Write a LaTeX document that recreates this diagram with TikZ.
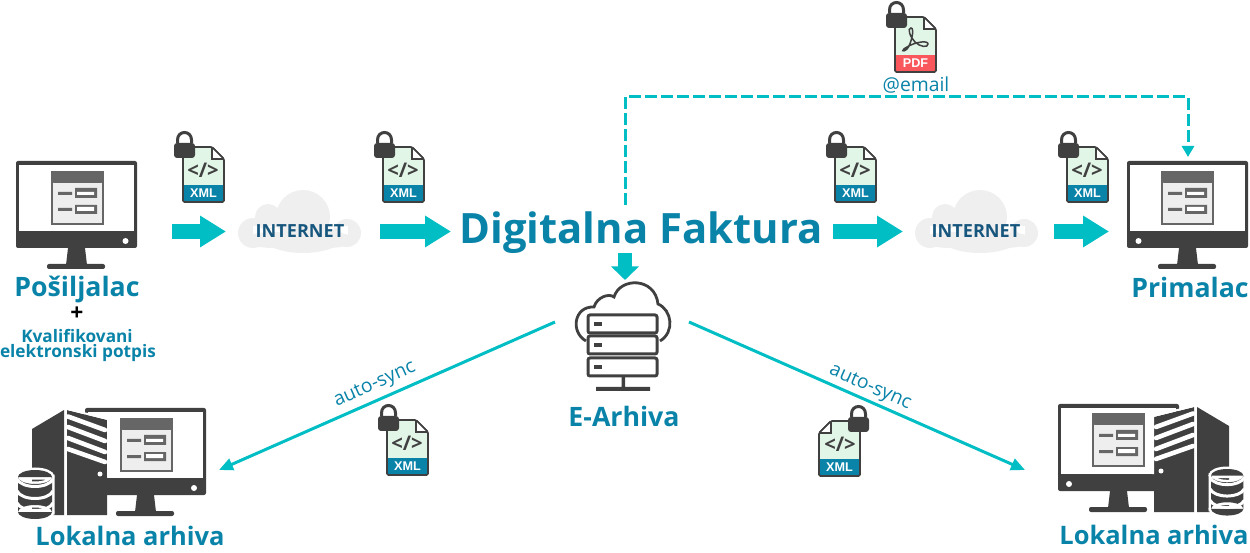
\documentclass[tikz,border=0pt]{standalone}
\usepackage{fontspec}
\setmainfont{Open Sans}
\newfontfamily\xmlfont{Liberation Sans}
\usetikzlibrary{arrows.meta}
\newlength\pxu
\setlength\pxu{0.02cm}
\definecolor{tealarrow}{HTML}{00BEC4}
\definecolor{brandblue}{HTML}{0A83A8}
\definecolor{icondark}{HTML}{404040}
\definecolor{formgrey}{HTML}{666666}
\definecolor{formpale}{HTML}{EEEEEE}
\definecolor{cloudgrey}{HTML}{EFEFEF}
\definecolor{netblue}{HTML}{17567D}
\definecolor{filegreen}{HTML}{E2F6E8}
\definecolor{pdfred}{HTML}{F9575C}
\tikzset{
  blockarrow/.style={line width=15\pxu,tealarrow,-{Triangle[length=.52cm,width=.6cm]}},
  droparrow/.style={line width=14\pxu,tealarrow,-{Triangle[length=.27cm,width=.54cm]}},
  synclink/.style={line width=3\pxu,tealarrow,-{Triangle[length=.28cm,width=.24cm]}},
  maillink/.style={line width=3\pxu,tealarrow,dash pattern=on 12\pxu off 4\pxu,-{Triangle[length=.22cm,width=.24cm]}},
  bigname/.style={inner sep=0,brandblue,font=\bfseries\fontsize{15.2}{18}\selectfont},
  archname/.style={inner sep=0,brandblue,font=\bfseries\fontsize{14.5}{18}\selectfont},
  subname/.style={inner sep=0,brandblue,font=\bfseries\fontsize{9.8}{11}\selectfont},
  synctext/.style={inner sep=0,brandblue,font=\fontsize{11}{13}\selectfont},
  nettext/.style={inner sep=0,netblue,font=\bfseries\fontsize{10.3}{12}\selectfont},
  pics/lockicon/.style={code={
    \draw[icondark,line width=3\pxu] (-5.5,-4) -- (-5.5,-7) .. controls (-5.5,-17) and (8.5,-17) .. (8.5,-7) -- (8.5,-4);
    \fill[icondark,rounded corners=3\pxu] (-9,-4) rectangle (12,11);
  }},
  pics/filesheet/.style n args={3}{code={
    \draw[icondark,line width=1.6\pxu,fill=filegreen,rounded corners=1.5\pxu] (0,0) -- (29,0) -- (41,12) -- (41,55) -- (0,55) -- cycle;
    \fill[#1] (1,38) rectangle (40,54);
    \fill[white] (29,1) -- (29,12) -- (40,12) -- cycle;
    \draw[icondark,line width=1.6\pxu] (29,0) -- (29,12) -- (41,12);
    \draw[icondark,line width=1.6\pxu,rounded corners=1.5\pxu] (29,0) -- (41,12) -- (41,55) -- (0,55) -- (0,0) -- cycle;
    \node[inner sep=0,white,font=\xmlfont\bfseries\fontsize{7.2}{8}\selectfont] (-tag) at (20.5,46) {#2};
    \node[inner sep=0,icondark,font=\bfseries\fontsize{11.5}{13}\selectfont] (-code) at (20,23) {#3};
  }},
  pics/formbox/.style={code={
    \draw[formgrey,line width=1.5\pxu,fill=formpale] (0,0) rectangle (51,52);
    \fill[formgrey,rounded corners=1.5\pxu] (0,0) rectangle (51,11);
    \fill[formgrey] (6,20) rectangle (20,23) (6,36) rectangle (20,39) (23,16) rectangle (45,26) (23,33) rectangle (45,42);
    \fill[white] (25,20) rectangle (42,23) (25,35) rectangle (42,39);
  }},
  pics/screenbox/.style={code={
    \fill[icondark,rounded corners=2\pxu] (0,0) rectangle (121,87);
    \fill[white] (3,4) rectangle (118,70);
    \fill[icondark] (52,87) -- (69,87) -- (71,104) -- (50,104) -- cycle;
    \fill[icondark,rounded corners=2\pxu] (31,103) rectangle (89,108);
  }},
  pics/towerbox/.style={code={
    \fill[icondark] (0,21) -- (32,2) -- (32,107) -- (0,107) -- cycle;
    \fill[icondark] (35,2) -- (75,12) -- (75,107) -- (35,107) -- cycle;
    \draw[white,line width=2\pxu] (35,1) -- (76,11) -- (76,69);
    \draw[white,line width=4.6\pxu,line cap=round] (36,8.5) -- (73,22) (36,19) -- (73,33) (36,30) -- (73,44) (36,41) -- (73,54);
    \fill[white] (68,66) circle (2.5);
  }},
  pics/dbstack/.style={code={
    \draw[white,line width=5\pxu] (17,7) ellipse (17 and 7) (0,7) rectangle (34,42) (17,42) ellipse (17 and 7);
    \fill[icondark] (17,7) ellipse (17 and 7) (0,7) rectangle (34,42) (17,42) ellipse (17 and 7);
    \draw[white,line width=3\pxu] (-1,9) .. controls (4,19) and (30,19) .. (35,9);
    \draw[white,line width=3\pxu] (-1,21) .. controls (4,31) and (30,31) .. (35,21);
    \draw[white,line width=3\pxu] (-1,33) .. controls (4,43) and (30,43) .. (35,33);
  }},
  pics/netcloud/.style={code={
    \fill[cloudgrey] (65,27) circle (27) (30,27) circle (13) (15,43) circle (15) (109,43) circle (14) (65,47) ellipse (40 and 16) (15,36) rectangle (110,50) (35,50) ellipse (28 and 8) (90,50) ellipse (26 and 8);
  }},
  pics/rackslot/.style={code={
    \draw[icondark,line width=3\pxu,rounded corners=2\pxu] (0,0) rectangle (69,18);
    \fill[icondark] (6,7) rectangle (14,11);
  }}
}
\begin{document}
\begin{tikzpicture}[x=0.02cm,y=-0.02cm]
  \useasboundingbox (0,0) rectangle (1250,553);
  %% Sender
  \pic at (16,161) {screenbox};
  \pic at (52,172) {formbox};
  \fill[white] (125.5,241) circle (3);
  \node[bigname] (sender) at (77,289) {Pošiljalac};
  \node[inner sep=0,font=\bfseries\fontsize{13}{14}\selectfont] (plus) at (77,314) {+};
  \node[subname] (cert1) at (77,336) {Kvalifikovani};
  \node[subname] (cert2) at (78,353) {elektronski potpis};
  %% Receiver
  \pic at (1127,161) {screenbox};
  \pic at (1162,172) {formbox};
  \fill[white] (1138.5,241) circle (3);
  \node[bigname] (receiver) at (1190,287) {Primalac};
  %% Clouds
  \pic at (238,190) {netcloud};
  \pic at (915,190) {netcloud};
  \node[nettext] (net1) at (300,231) {INTERNET};
  \node[nettext] (net2) at (976,231) {INTERNET};
  \node[inner sep=0,brandblue,font=\bfseries\fontsize{23.8}{28}\selectfont] (brand) at (641,233) {Digitalna Faktura};
  %% Archive cloud
  \draw[icondark,line width=2.8\pxu] (586,341) .. controls (570,332) and (574,306) .. (594,307) .. controls (597,297) and (609,293) .. (614,297) .. controls (620,277) and (655,277) .. (658,304) .. controls (672,310) and (675,332) .. (660,341);
  \pic at (588,315) {rackslot};
  \pic at (588,336) {rackslot};
  \pic at (588,358) {rackslot};
  \fill[icondark] (621.5,377) rectangle (625,388) (596,387) rectangle (650,391);
  \node[bigname] (archive) at (624,416) {E-Arhiva};
  %% Local archives
  \pic at (85,408) {screenbox};
  \pic at (121,419) {formbox};
  \fill[white] (194,488) circle (3);
  \pic at (32,408) {towerbox};
  \pic at (18,470) {dbstack};
  \node[archname] (local1) at (130,536) {Lokalna arhiva};
  \pic at (1058,404) {screenbox};
  \pic at (1093,414) {formbox};
  \fill[white] (1069,484) circle (3);
  \pic[xscale=-1] at (1229,405) {towerbox};
  \pic[scale=.95] at (1211,469) {dbstack};
  \node[archname] (local2) at (1154,535) {Lokalna arhiva};
  %% Connectors
  \coordinate (a1from) at (172,231.5);
  \coordinate (a1to) at (226,231.5);
  \coordinate (a2from) at (380,231.5);
  \coordinate (a2to) at (451,231.5);
  \coordinate (a3from) at (833,231.5);
  \coordinate (a3to) at (903,231.5);
  \coordinate (a4from) at (1054,231.5);
  \coordinate (a4to) at (1109,231.5);
  \coordinate (downfrom) at (625,253);
  \coordinate (downto) at (625,280);
  \coordinate (syncout1) at (555,322);
  \coordinate (syncend1) at (219,470);
  \coordinate (syncout2) at (689,322);
  \coordinate (syncend2) at (1025,470);
  \coordinate (mailfrom) at (625,205);
  \coordinate (mailto) at (1188,157);
  \draw[blockarrow] (a1from) -- (a1to);
  \draw[blockarrow] (a2from) -- (a2to);
  \draw[blockarrow] (a3from) -- (a3to);
  \draw[blockarrow] (a4from) -- (a4to);
  \draw[droparrow] (downfrom) -- (downto);
  \draw[synclink] (syncout1) -- (syncend1);
  \draw[synclink] (syncout2) -- (syncend2);
  \draw[maillink] (mailfrom) |- (1188,97) -- (mailto);
  \node[synctext,rotate=24] (sync1) at (375,385) {auto-sync};
  \node[synctext,rotate=-24] (sync2) at (870,388) {auto-sync};
  \node[synctext] (mail) at (916,85) {@email};
  %% Files
  \pic at (183,147) {filesheet={brandblue}{XML}{</>}};
  \pic at (183,147) {lockicon};
  \pic at (383,147) {filesheet={brandblue}{XML}{</>}};
  \pic at (383,147) {lockicon};
  \pic at (835,147) {filesheet={brandblue}{XML}{</>}};
  \pic at (835,147) {lockicon};
  \pic at (1067,147) {filesheet={brandblue}{XML}{</>}};
  \pic at (1067,147) {lockicon};
  \pic at (387,420) {filesheet={brandblue}{XML}{</>}};
  \pic at (387,420) {lockicon};
  \pic[xscale=-1] at (860,421) {filesheet={brandblue}{XML}{</>}};
  \pic[xscale=-1] at (860,421) {lockicon};
  \pic at (895,17) {filesheet={pdfred}{PDF}{}};
  \pic at (895,17) {lockicon};
  \draw[icondark,line width=1.5\pxu] (911,28) .. controls (907,28) and (910,37) .. (915,42) .. controls (920,47) and (928,48) .. (928,44) .. controls (928,40) and (915,42) .. (907,47) .. controls (901,50) and (902,53) .. (907,49) .. controls (911,45) and (915,28) .. (911,28) -- cycle;
\end{tikzpicture}
\end{document}
